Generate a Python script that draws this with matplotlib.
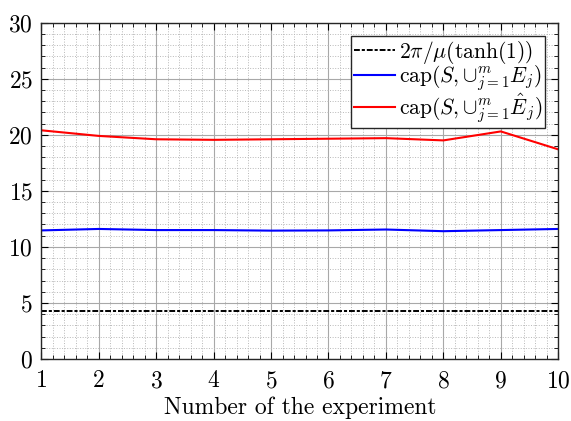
import numpy as np
import matplotlib
matplotlib.use("Agg")
import matplotlib.pyplot as plt
from matplotlib.ticker import MultipleLocator

plt.rcParams['font.family'] = 'serif'
plt.rcParams['font.serif'] = ['cmr10']
plt.rcParams['mathtext.fontset'] = 'cm'
plt.rcParams['axes.formatter.use_mathtext'] = True

# data
experiments = np.arange(1, 11)
cap_E = [11.47, 11.6, 11.5, 11.5, 11.45, 11.47, 11.55, 11.4, 11.5, 11.6]
cap_Ehat = [20.4, 19.9, 19.6, 19.55, 19.6, 19.65, 19.7, 19.5, 20.3, 18.7]
bound = 4.29  # 2*pi/mu(tanh(1))

fig = plt.figure(figsize=(5.71, 4.21), dpi=100)
ax = fig.add_axes([0.0723, 0.1473, 0.9054, 0.7988])

ax.plot(experiments, [bound] * len(experiments), color='black',
        linewidth=1.4, dashes=(3, 1, 1.6, 1), label=r'$2\pi/\mu(\tanh(1))$')
ax.plot(experiments, cap_E, color='blue', linewidth=1.5,
        label=r'$\mathrm{cap}(S,{\cup}_{j=1}^{m} E_j)$')
ax.plot(experiments, cap_Ehat, color='red', linewidth=1.5,
        label=r'$\mathrm{cap}(S,{\cup}_{j=1}^{m} \hat{E}_j)$')

ax.set_xlim(1, 10)
ax.set_ylim(0, 30)
ax.set_xticks(experiments)
ax.set_yticks(np.arange(0, 31, 5))
ax.xaxis.set_minor_locator(MultipleLocator(0.2))
ax.yaxis.set_minor_locator(MultipleLocator(1))

ax.grid(which='major', color='#a8a8a8', linewidth=0.8, linestyle='-')
ax.grid(which='minor', color='#b8b8b8', linewidth=0.7, linestyle=':')
ax.set_axisbelow(True)

ax.tick_params(which='both', direction='in', top=True, right=True, labelsize=17)
ax.tick_params(which='major', length=5, width=0.8)
ax.tick_params(which='minor', length=3, width=0.6)
ax.tick_params(axis='x', pad=8)
ax.tick_params(axis='y', pad=6)
for s in ax.spines.values():
    s.set_color('#262626')
    s.set_linewidth(1.0)

ax.set_xlabel('Number of the experiment', fontsize=17, labelpad=3)

leg = ax.legend(loc='upper right', fontsize=15.5, fancybox=False, framealpha=1,
                edgecolor='#262626', handlelength=1.9, handletextpad=0.15,
                borderpad=0.15, labelspacing=-0.1, borderaxespad=0.6)
leg.get_frame().set_linewidth(1.0)

plt.savefig('out.png', dpi=100)
plt.close()
